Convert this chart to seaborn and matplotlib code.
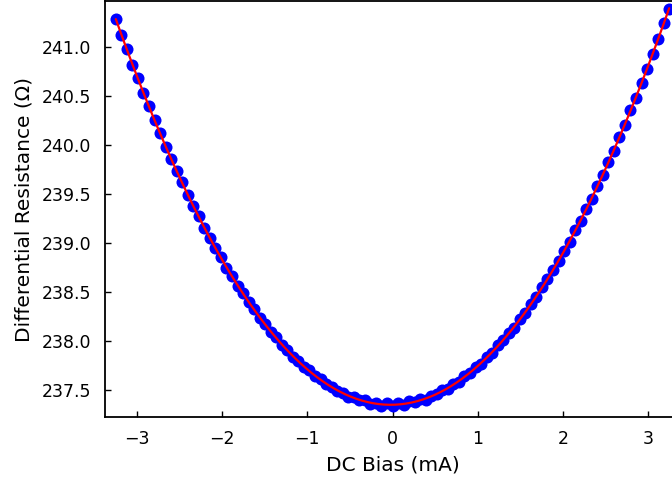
import matplotlib
matplotlib.use("Agg")
import matplotlib.pyplot as plt
import numpy as np
import seaborn as sns

# DC bias sweep (mA) and measured differential resistance (Ohm)
bias_ma = [
    -3.250, -3.185, -3.120, -3.055, -2.990, -2.925, -2.860, -2.795, -2.730, -2.665,
    -2.600, -2.535, -2.470, -2.405, -2.340, -2.275, -2.210, -2.145, -2.080, -2.015,
    -1.950, -1.885, -1.820, -1.755, -1.690, -1.625, -1.560, -1.495, -1.430, -1.365,
    -1.300, -1.235, -1.170, -1.105, -1.040, -0.975, -0.910, -0.845, -0.780, -0.715,
    -0.650, -0.585, -0.520, -0.455, -0.390, -0.325, -0.260, -0.195, -0.130, -0.065,
    0.000, 0.065, 0.130, 0.195, 0.260, 0.325, 0.390, 0.455, 0.520, 0.585,
    0.650, 0.715, 0.780, 0.845, 0.910, 0.975, 1.040, 1.105, 1.170, 1.235,
    1.300, 1.365, 1.430, 1.495, 1.560, 1.625, 1.690, 1.755, 1.820, 1.885,
    1.950, 2.015, 2.080, 2.145, 2.210, 2.275, 2.340, 2.405, 2.470, 2.535,
    2.600, 2.665, 2.730, 2.795, 2.860, 2.925, 2.990, 3.055, 3.120, 3.185,
    3.250,
]
resistance = [
    241.285, 241.124, 240.981, 240.816, 240.680, 240.527, 240.400, 240.251, 240.123, 239.980,
    239.861, 239.731, 239.620, 239.487, 239.379, 239.271, 239.148, 239.054, 238.946, 238.855,
    238.747, 238.661, 238.561, 238.488, 238.398, 238.323, 238.231, 238.174, 238.094, 238.038,
    237.959, 237.907, 237.835, 237.796, 237.737, 237.699, 237.639, 237.616, 237.561, 237.535,
    237.488, 237.470, 237.427, 237.429, 237.393, 237.395, 237.357, 237.367, 237.337, 237.367,
    237.338, 237.365, 237.349, 237.386, 237.373, 237.404, 237.399, 237.441, 237.455, 237.499,
    237.510, 237.558, 237.580, 237.641, 237.674, 237.737, 237.768, 237.832, 237.875, 237.954,
    238.007, 238.081, 238.137, 238.228, 238.290, 238.377, 238.447, 238.549, 238.630, 238.728,
    238.813, 238.919, 239.012, 239.133, 239.229, 239.347, 239.450, 239.581, 239.694, 239.825,
    239.941, 240.081, 240.208, 240.356, 240.483, 240.634, 240.771, 240.932, 241.078, 241.242,
    241.390,
]
y_ticks = [237.5, 238.0, 238.5, 239.0, 239.5, 240.0, 240.5, 241.0]
x_ticks = [-3, -2, -1, 0, 1, 2, 3]

sns.set_style("ticks")
plt.rcParams["font.family"] = ["DejaVu Sans"]
plt.rcParams["text.color"] = "black"
plt.rcParams["axes.labelcolor"] = "black"
plt.rcParams["xtick.color"] = "black"
plt.rcParams["ytick.color"] = "black"

fig = plt.figure(figsize=(6.72, 4.8), dpi=100)
ax = fig.add_axes([105 / 672, 63 / 480, 575 / 672, 416 / 480])

# data points plus quadratic fit
sns.regplot(x=np.array(bias_ma), y=np.array(resistance), order=2, ci=None, ax=ax,
            scatter_kws={"color": "#0000ff", "s": 75, "alpha": 1, "linewidths": 0},
            line_kws={"color": "#ff0000", "lw": 1.6})

ax.set_xlim(-3.377, 3.377)
ax.set_ylim(237.224, 241.469)
ax.set_yticks(y_ticks)
ax.set_xticks(x_ticks)
ax.set_yticklabels([f"{t:.1f}" for t in y_ticks])
ax.set_xticklabels([f"{t}".replace("-", "\u2212") for t in x_ticks])

ax.tick_params(direction="in", length=4, width=1, labelsize=12.5, colors="black")
ax.tick_params(axis="y", pad=10)
ax.tick_params(axis="x", pad=9.5)
for s in ax.spines.values():
    s.set_linewidth(1.3)
    s.set_color("black")

ax.set_xlabel("DC Bias (mA)", fontsize=14.5, labelpad=5)
ax.set_ylabel("Differential Resistance (\u03a9)", fontsize=14.5, labelpad=6)

fig.savefig("out.png", dpi=100)
